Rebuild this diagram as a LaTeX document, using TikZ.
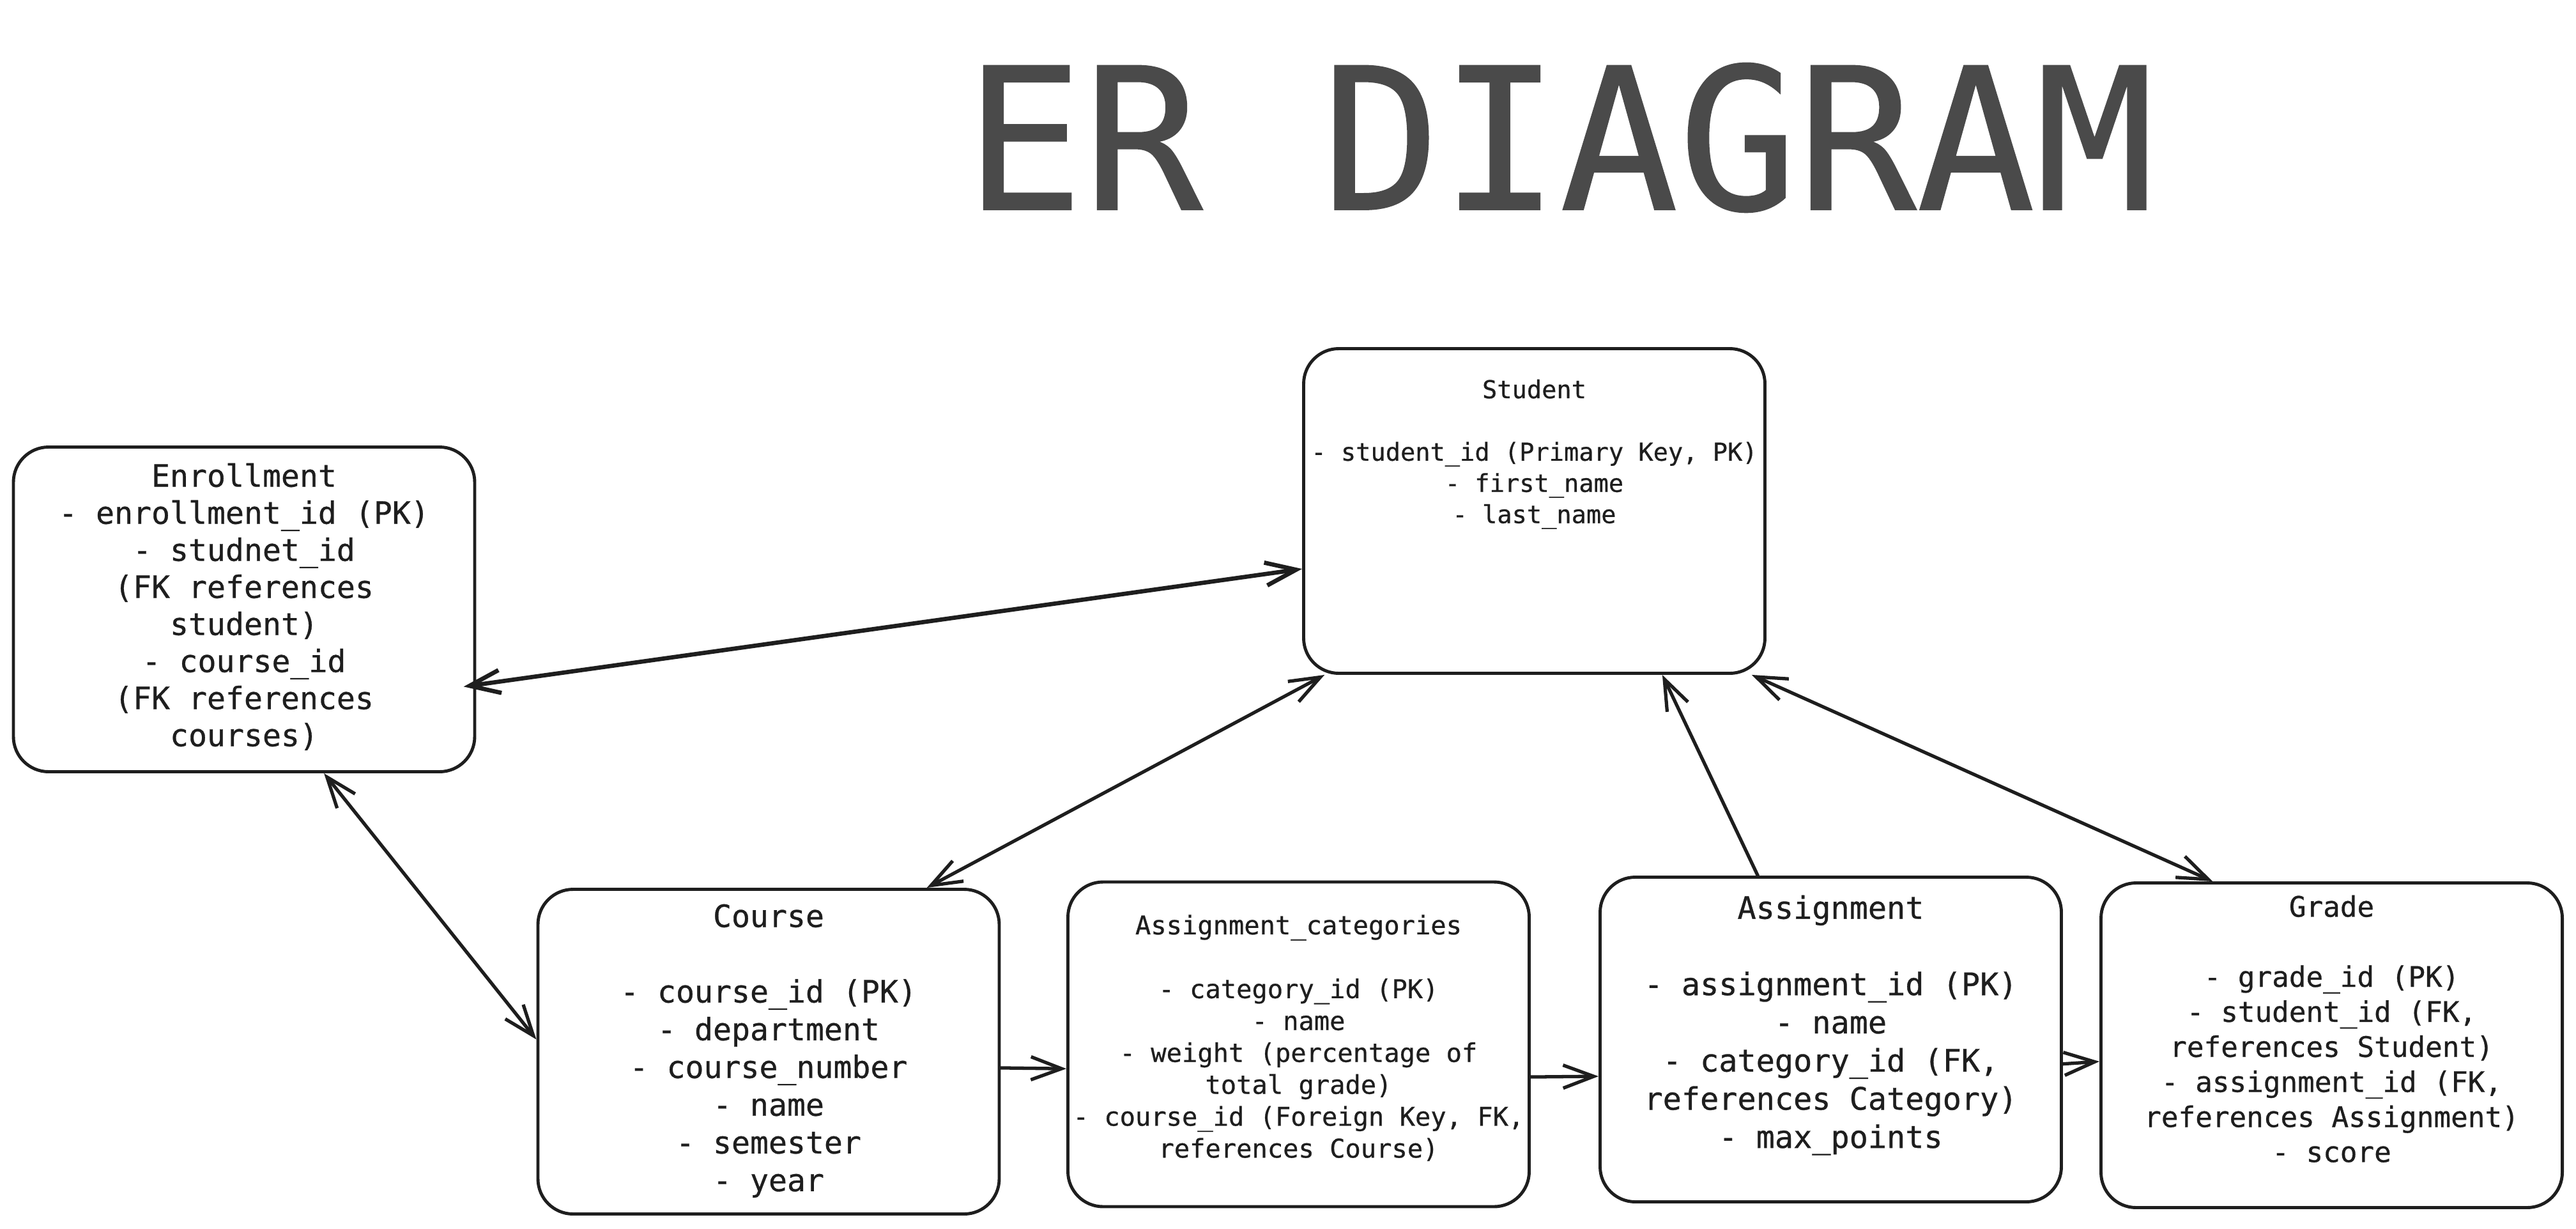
\documentclass[tikz,border=0pt]{standalone}
\usepackage{fontspec}
\setmonofont{DejaVu Sans Mono}[BoldFont={DejaVu Sans Mono}, BoldFeatures={FakeBold=0.6}]
\usetikzlibrary{arrows.meta, positioning, calc}

\definecolor{ink}{HTML}{1E1E1E}
\definecolor{titlegray}{HTML}{4A4A4A}

\tikzset{
  entity/.style={draw=ink, line width=1.4pt, rounded corners=0.55cm, minimum width=7.22cm, minimum height=5.08cm, inner sep=0pt},
  fields/.style={anchor=north, align=center, inner sep=0pt, text=ink},
  rel/.style={draw=ink, line width=1.5pt, line cap=round},
}

\begin{document}
\begin{tikzpicture}[>={Straight Barb[length=4.8mm, width=3.6mm]}]
\useasboundingbox (0,0) rectangle (40.32,-19.22);

\node[anchor=base, inner sep=0pt, text=titlegray, font=\ttfamily\bfseries\fontsize{88}{100}\selectfont] (title) at (24.41,-3.28) {ER DIAGRAM};

% tables
\node[entity] (student) at (24.015,-7.995) {};
\node[entity] (enroll) at (3.82,-9.535) {};
\node[entity] (course) at (12.03,-16.455) {};
\node[entity] (category) at (20.325,-16.34) {};
\node[entity] (assign) at (28.655,-16.265) {};
\node[entity] (grade) at (36.495,-16.355) {};

\node[fields, font=\ttfamily\bfseries\fontsize{11}{13.9}\selectfont, below=0.50cm of student.north] (studentText) {
Student\\[13.9pt]
- student\_id (Primary Key, PK)\\
- first\_name\\
- last\_name
};

\node[fields, font=\ttfamily\bfseries\fontsize{13.7}{16.5}\selectfont, below=0.27cm of enroll.north] (enrollText) {
Enrollment\\
- enrollment\_id (PK)\\
- studnet\_id\\
(FK references\\
student)\\
- course\_id\\
(FK references\\
courses)
};

\node[fields, font=\ttfamily\bfseries\fontsize{13.7}{16.8}\selectfont, below=0.25cm of course.north] (courseText) {
Course\\[16.8pt]
- course\_id (PK)\\
- department\\
- course\_number\\
- name\\
- semester\\
- year
};

\node[fields, font=\ttfamily\bfseries\fontsize{11.5}{14.2}\selectfont, below=0.53cm of category.north] (categoryText) {
Assignment\_categories\\[14.2pt]
- category\_id (PK)\\
- name\\
- weight (percentage of\\
total grade)\\
- course\_id (Foreign Key, FK,\\
references Course)
};

\node[fields, font=\ttfamily\bfseries\fontsize{13.8}{17}\selectfont, below=0.30cm of assign.north] (assignText) {
Assignment\\[17pt]
- assignment\_id (PK)\\
- name\\
- category\_id (FK,\\
references Category)\\
- max\_points
};

\node[fields, font=\ttfamily\bfseries\fontsize{12.6}{15.6}\selectfont, below=0.21cm of grade.north] (gradeText) {
Grade\\[15.6pt]
- grade\_id (PK)\\
- student\_id (FK,\\
references Student)\\
- assignment\_id (FK,\\
references Assignment)\\
- score
};

% relations
\draw[rel, <->, line width=1.9pt, shorten <=-0.2cm] (enroll.-18) -- (student.194.5);
\draw[rel, <->] (enroll.-64.8) -- (course.177.5);
\draw[rel, <->] (student.218.7) -- (course.46.5);
\draw[rel, ->] (assign.114.2) -- (student.-52.1);
\draw[rel, <->] (student.-37.5) -- (grade.126.1);
\draw[rel, ->] (course.-4.45) -- (category.186.3);
\draw[rel, ->] (category.-8) -- (assign.189.2);
\draw[rel, ->] (assign.-6.1) -- (grade.184.7);
\end{tikzpicture}
\end{document}
